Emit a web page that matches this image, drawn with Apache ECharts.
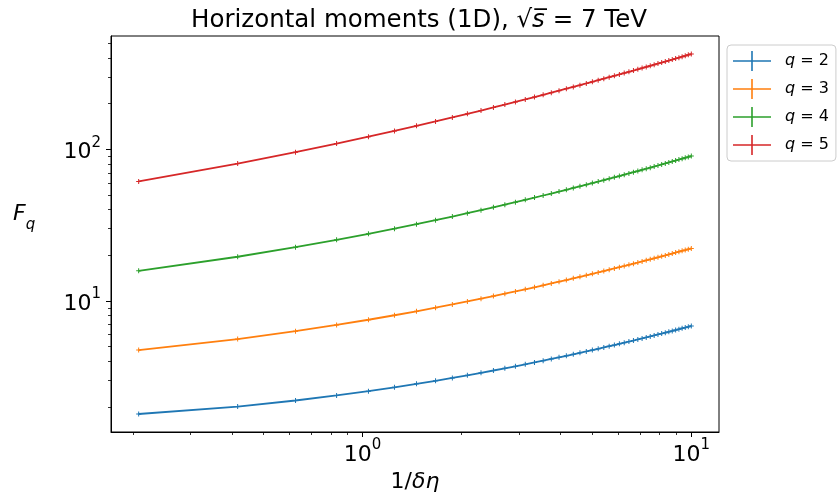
<!DOCTYPE html>
<html>
<head>
<meta charset="utf-8">
<script src="https://cdn.jsdelivr.net/npm/echarts@6/dist/echarts.min.js"></script>
<style>
  html, body { margin: 0; padding: 0; background: #fff; }
  #chart { width: 838px; height: 500px; }
</style>
</head>
<body>
<div id="chart"></div>
<script>
// 1/δη values (x)
const invDeltaEta = [0.2083,0.4167,0.625,0.8333,1.0417,1.25,1.4583,1.6667,1.875,2.0833,2.2917,2.5,2.7083,2.9167,3.125,3.3333,3.5417,3.75,3.9583,4.1667,4.375,4.5833,4.7917,5.0,5.2083,5.4167,5.625,5.8333,6.0417,6.25,6.4583,6.6667,6.875,7.0833,7.2917,7.5,7.7083,7.9167,8.125,8.3333,8.5417,8.75,8.9583,9.1667,9.375,9.5833,9.7917,10.0];

// F_q values
const fq2 = [1.793,2.008,2.201,2.376,2.538,2.689,2.834,2.971,3.102,3.229,3.353,3.472,3.589,3.703,3.815,3.924,4.031,4.137,4.240,4.342,4.443,4.542,4.640,4.737,4.832,4.927,5.021,5.113,5.207,5.297,5.387,5.477,5.565,5.654,5.742,5.829,5.916,6.001,6.086,6.171,6.254,6.338,6.422,6.504,6.587,6.668,6.749,6.831];
const fq3 = [4.737,5.595,6.307,6.934,7.507,8.039,8.540,9.020,9.473,9.913,10.34,10.75,11.15,11.54,11.93,12.30,12.67,13.03,13.38,13.73,14.08,14.42,14.75,15.08,15.41,15.73,16.05,16.37,16.68,16.99,17.30,17.61,17.91,18.21,18.51,18.80,19.10,19.38,19.68,19.96,20.25,20.54,20.82,21.10,21.38,21.65,21.93,22.20];
const fq4 = [15.80,19.55,22.60,25.27,27.70,29.95,32.08,34.09,36.02,37.89,39.69,41.44,43.15,44.80,46.43,48.02,49.59,51.11,52.63,54.11,55.58,57.03,58.45,59.87,61.26,62.63,63.99,65.35,66.68,68.00,69.33,70.62,71.91,73.20,74.46,75.74,76.99,78.22,79.48,80.69,81.91,83.15,84.37,85.54,86.75,87.94,89.12,90.30];
const fq5 = [61.38,80.50,95.79,109.1,121.2,132.3,142.9,152.9,162.4,171.6,180.4,189.0,197.4,205.6,213.5,221.3,228.9,236.4,243.9,251.1,258.2,265.2,272.1,279.0,285.8,292.5,299.1,305.6,312.1,318.5,324.9,331.1,337.4,343.5,349.6,355.8,361.8,367.8,373.8,379.7,385.6,391.3,397.1,402.8,408.6,414.3,420.1,425.6];

const seriesNames = ['q = 2', 'q = 3', 'q = 4', 'q = 5'];
const seriesColors = ['#1f77b4', '#ff7f0e', '#2ca02c', '#d62728'];
const seriesValues = [fq2, fq3, fq4, fq5];

// Tick values
const xMajorTicks = [1, 10];
const xMinorTicks = [0.2,0.3,0.4,0.5,0.6,0.7,0.8,0.9,2,3,4,5,6,7,8,9];
const yMajorTicks = [10, 100];
const yMinorTicks = [2,3,4,5,6,7,8,9,20,30,40,50,60,70,80,90,200,300,400,500];

const FONT = 'DejaVu Sans';
const X_MIN = 0.1716, X_MAX = 12.14;
const Y_MIN = 1.364, Y_MAX = 559.6;

const chart = echarts.init(document.getElementById('chart'), null, { renderer: 'canvas' });

function powLabel(v) {
  const e = Math.round(Math.log10(v));
  return '{b|10}{s|' + e + '}';
}
const powRich = {
  b: { fontFamily: FONT, fontSize: 22, color: '#000', lineHeight: 28, verticalAlign: 'bottom' },
  s: { fontFamily: FONT, fontSize: 15, color: '#000', lineHeight: 15, verticalAlign: 'top' }
};

const plusSymbol = 'path://M0,4H10V6H0Z M4,0H6V10H4Z';
const legendIcon = 'path://M0,9.2H38V10.8H0Z M18.2,0H19.8V20H18.2Z';

const series = seriesNames.map((name, i) => ({
  name: name,
  type: 'line',
  xAxisIndex: 0,
  yAxisIndex: 0,
  data: invDeltaEta.map((x, k) => [x, seriesValues[i][k]]),
  symbol: plusSymbol,
  symbolSize: 5,
  showSymbol: true,
  color: seriesColors[i],
  lineStyle: { color: seriesColors[i], width: 1.8 },
  itemStyle: { color: seriesColors[i] },
  emphasis: { disabled: true },
  animation: false
}));

const axisCommon = {
  splitLine: { show: false },
  minorTick: { show: false },
  minorSplitLine: { show: false }
};

const option = {
  animation: false,
  backgroundColor: '#fff',
  title: {
    text: 'Horizontal moments (1D), {r|√}{i|s̅} = 7 TeV',
    left: 'center',
    top: 3,
    textStyle: {
      fontFamily: FONT, fontSize: 24.5, fontWeight: 'normal', color: '#000',
      rich: {
        r: { fontFamily: FONT, fontSize: 24.5, color: '#000' },
        i: { fontFamily: FONT, fontSize: 24.5, fontStyle: 'italic', color: '#000' }
      }
    }
  },
  grid: {
    left: 111, top: 36, width: 608, height: 396,
    show: true, borderColor: '#000', borderWidth: 1,
    containLabel: false
  },
  legend: {
    orient: 'vertical',
    left: 727, top: 45,
    padding: [6, 7, 6, 6],
    itemWidth: 38, itemHeight: 20, itemGap: 8,
    icon: legendIcon,
    borderColor: '#cccccc', borderWidth: 1, borderRadius: 4,
    backgroundColor: 'rgba(255,255,255,0.8)',
    data: seriesNames,
    formatter: function (name) { return '{i|q}' + name.slice(1); },
    textStyle: {
      fontFamily: FONT, fontSize: 16, color: '#000', padding: [0, 0, 0, 9],
      rich: { i: { fontFamily: FONT, fontSize: 16, fontStyle: 'italic', color: '#000' } }
    }
  },
  xAxis: [
    Object.assign({
      type: 'log', logBase: 10, min: X_MIN, max: X_MAX, position: 'bottom', gridIndex: 0,
      name: '1/{i|δη}', nameLocation: 'middle', nameGap: 33,
      nameTextStyle: {
        fontFamily: FONT, fontSize: 22, color: '#000',
        rich: { i: { fontFamily: FONT, fontSize: 22, fontStyle: 'italic', color: '#000' } }
      },
      axisLine: { show: true, lineStyle: { color: '#000', width: 1 } },
      axisTick: { show: true, inside: false, length: 5, customValues: xMajorTicks, lineStyle: { color: '#000', width: 1 } },
      axisLabel: { show: true, customValues: xMajorTicks, margin: 6, formatter: powLabel, rich: powRich }
    }, axisCommon),
    Object.assign({
      type: 'log', logBase: 10, min: X_MIN, max: X_MAX, position: 'bottom', gridIndex: 0,
      axisLine: { show: false },
      axisTick: { show: true, inside: false, length: 3, customValues: xMinorTicks, lineStyle: { color: '#000', width: 0.8 } },
      axisLabel: { show: false }
    }, axisCommon)
  ],
  yAxis: [
    Object.assign({
      type: 'log', logBase: 10, min: Y_MIN, max: Y_MAX, position: 'left', gridIndex: 0,
      axisLine: { show: true, lineStyle: { color: '#000', width: 1 } },
      axisTick: { show: true, inside: false, length: 5, customValues: yMajorTicks, lineStyle: { color: '#000', width: 1 } },
      axisLabel: { show: true, customValues: yMajorTicks, margin: 10, formatter: powLabel, rich: powRich }
    }, axisCommon),
    Object.assign({
      type: 'log', logBase: 10, min: Y_MIN, max: Y_MAX, position: 'left', gridIndex: 0,
      axisLine: { show: false },
      axisTick: { show: true, inside: false, length: 3, customValues: yMinorTicks, lineStyle: { color: '#000', width: 0.8 } },
      axisLabel: { show: false }
    }, axisCommon)
  ],
  graphic: [{
    type: 'text',
    left: 13, top: 203,
    style: {
      text: '{f|F}{q|q}',
      rich: {
        f: { fontFamily: FONT, fontSize: 22, fontStyle: 'italic', fill: '#000', lineHeight: 30, verticalAlign: 'top' },
        q: { fontFamily: FONT, fontSize: 15, fontStyle: 'italic', fill: '#000', lineHeight: 15, verticalAlign: 'bottom' }
      }
    }
  }],
  series: series
};

chart.setOption(option);
</script>
</body>
</html>
